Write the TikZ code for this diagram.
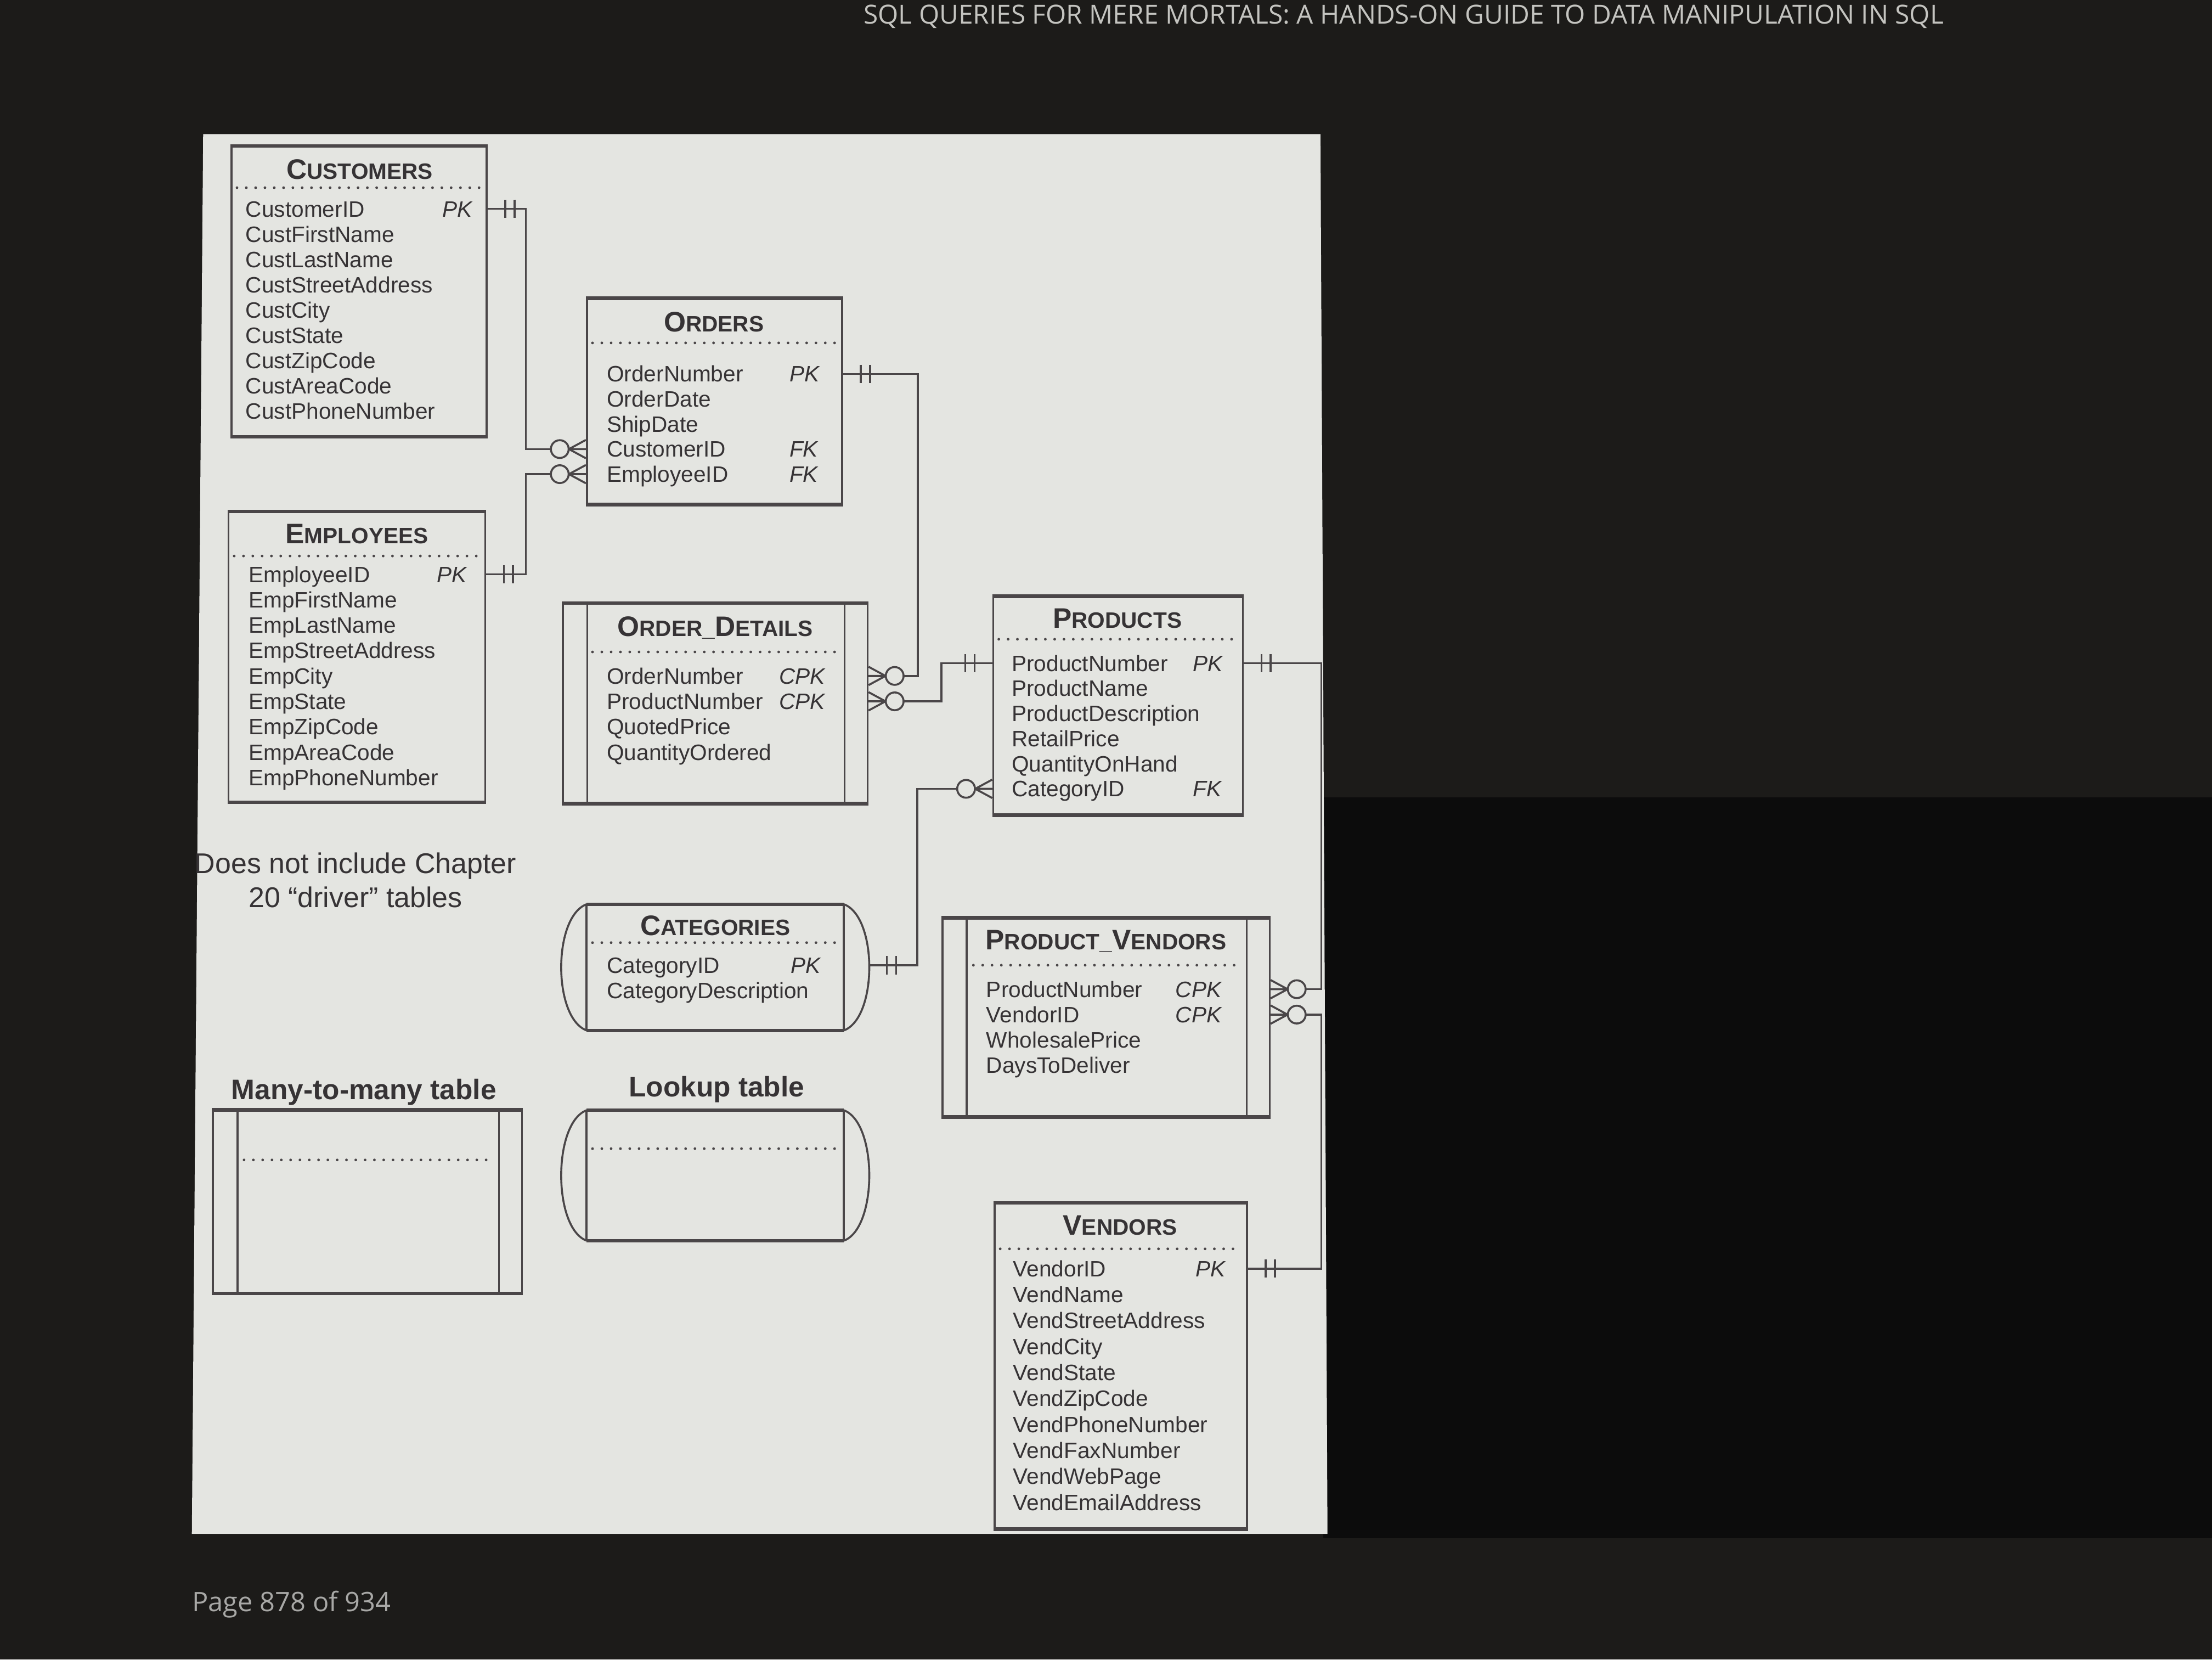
\documentclass[tikz,border=0pt]{standalone}
\usepackage{fontspec}
\setmainfont{Liberation Sans}
\newfontfamily\headfont{Open Sans}

\definecolor{paper}{HTML}{E4E5E1}
\definecolor{ink}{HTML}{363335}
\definecolor{linec}{HTML}{4A4648}
\definecolor{bgdark}{HTML}{1C1B19}
\definecolor{bgdeep}{HTML}{0C0C0C}
\definecolor{headc}{HTML}{C4C4C0}
\definecolor{pagec}{HTML}{A8A8A6}

\newcommand\fldsize{\fontsize{15.8pt}{18pt}\selectfont}
\newcommand\TitleBig[1]{{\fontsize{20pt}{22pt}\selectfont #1}}
\newcommand\TitleSmall[1]{{\fontsize{15.8pt}{22pt}\selectfont #1}}

% table outline with heavier top and bottom rims
\newcommand\rims[1]{\draw[rim] (#1.north west) -- (#1.north east) (#1.south west) -- (#1.south east);}
% many-to-many table: double bars on both sides
\newcommand\mmbars[1]{%
  \draw[conn] ([xshift=18pt]#1.north west) -- ([xshift=18pt]#1.south west)
              ([xshift=-17pt]#1.north east) -- ([xshift=-17pt]#1.south east);}
% lookup table: inner bars with rounded outer sides
\newcommand\lookupshape[1]{%
  \fill[paper] ([xshift=18pt]#1.north west) .. controls ([xshift=-6pt,yshift=-9pt]#1.north west) and ([xshift=-6pt,yshift=9pt]#1.south west) .. ([xshift=18pt]#1.south west)
     -- ([xshift=-18pt]#1.south east) .. controls ([xshift=6pt,yshift=9pt]#1.south east) and ([xshift=6pt,yshift=-9pt]#1.north east) .. ([xshift=-18pt]#1.north east) -- cycle;
  \draw[conn] ([xshift=18pt]#1.north west) .. controls ([xshift=-6pt,yshift=-9pt]#1.north west) and ([xshift=-6pt,yshift=9pt]#1.south west) .. ([xshift=18pt]#1.south west);
  \draw[conn] ([xshift=-18pt]#1.north east) .. controls ([xshift=6pt,yshift=-9pt]#1.north east) and ([xshift=6pt,yshift=9pt]#1.south east) .. ([xshift=-18pt]#1.south east);
  \draw[conn] ([xshift=18pt]#1.north west) -- ([xshift=18pt]#1.south west)
              ([xshift=-18pt]#1.north east) -- ([xshift=-18pt]#1.south east);
  \draw[rim] ([xshift=18pt]#1.north west) -- ([xshift=-18pt]#1.north east)
             ([xshift=18pt]#1.south west) -- ([xshift=-18pt]#1.south east);}

\begin{document}
\begin{tikzpicture}[x=1pt,y=-1pt,
  box/.style={draw=linec, line width=1.4pt, rectangle, inner sep=0pt, fill=paper},
  area/.style={rectangle, inner sep=0pt},
  fld/.style={anchor=west, inner sep=0pt, text height=11.3pt, text depth=0pt, font=\fldsize, text=ink},
  keyc/.style={anchor=east, inner sep=0pt, text height=11.3pt, text depth=0pt, font=\fldsize\itshape, text=ink},
  ttl/.style={anchor=base, inner sep=0pt, font=\bfseries, text=ink},
  lbl/.style={anchor=base, inner sep=0pt, font=\fontsize{20pt}{24pt}\selectfont\bfseries, text=ink},
  note/.style={anchor=base, inner sep=0pt, font=\fontsize{20.2pt}{24pt}\selectfont, text=ink},
  sep/.style={draw=linec, line width=1.9pt, line cap=round, dash pattern=on 0pt off 6.6pt},
  rim/.style={draw=linec, line width=2.4pt},
  conn/.style={draw=linec, line width=1.4pt},
  one/.pic={\draw[conn] (12.5,-6.5) -- (12.5,6.5) (19,-6.5) -- (19,6.5);},
  many/.pic={\draw[conn] (0,-6.5) -- (12,0) -- (0,6.5) (0,0) -- (12,0);
             \draw[conn, fill=paper] (18.5,0) circle[radius=6.3];},
]
\useasboundingbox (0,0) rectangle (1568,1176);
\clip (0,0) rectangle (1568,1176);

% screen surroundings
\fill[bgdark] (0,0) rectangle (1568,1176);
\fill[bgdeep] (938,565) rectangle (1568,1090);
\node[anchor=base, inner sep=0pt, text=headc, font={\headfont\fontsize{18.6pt}{20pt}\selectfont}] (head) at (995,17)
  {SQL QUERIES FOR MERE MORTALS: A HANDS-ON GUIDE TO DATA MANIPULATION IN SQL};
\node[anchor=west, inner sep=0pt, text=pagec, font={\headfont\fontsize{19pt}{22pt}\selectfont}] (pageno) at (136,1137)
  {Page 878 of 934};

% the page
\fill[paper] (144,95) -- (936,95) -- (941,1087) -- (136,1087) -- cycle;

% ---------- CUSTOMERS ----------
\node[box, minimum width=181pt, minimum height=205pt] (cust) at (254.5,206.5) {};
\rims{cust}
\node[ttl] (cust-t) at (255,127) {\TitleBig{C}\TitleSmall{USTOMERS}};
\draw[sep] (168,133) -- (342,133);
\foreach \t [count=\i] in {CustomerID,CustFirstName,CustLastName,CustStreetAddress,CustCity,CustState,CustZipCode,CustAreaCode,CustPhoneNumber}
  \node[fld] (cust-\i) at (174,{148+17.9*(\i-1)}) {\t};
\node[keyc] (cust-pk) at (335,148) {PK};

% ---------- ORDERS ----------
\node[box, minimum width=181pt, minimum height=145pt] (ord) at (506.5,284.5) {};
\rims{ord}
\node[ttl] (ord-t) at (506,235) {\TitleBig{O}\TitleSmall{RDERS}};
\draw[sep] (420,243) -- (593,243);
\foreach \t [count=\i] in {OrderNumber,OrderDate,ShipDate,CustomerID,EmployeeID}
  \node[fld] (ord-\i) at (430,{265+17.75*(\i-1)}) {\t};
\node[keyc] (ord-pk) at (581,265) {PK};
\node[keyc] (ord-fk1) at (580,318) {FK};
\node[keyc] (ord-fk2) at (580,336) {FK};

% ---------- EMPLOYEES ----------
\node[box, minimum width=182pt, minimum height=205pt] (emp) at (253,465.5) {};
\rims{emp}
\node[ttl] (emp-t) at (253,385) {\TitleBig{E}\TitleSmall{MPLOYEES}};
\draw[sep] (166,394) -- (341,394);
\foreach \t [count=\i] in {EmployeeID,EmpFirstName,EmpLastName,EmpStreetAddress,EmpCity,EmpState,EmpZipCode,EmpAreaCode,EmpPhoneNumber}
  \node[fld] (emp-\i) at (176,{407+18*(\i-1)}) {\t};
\node[keyc] (emp-pk) at (331,407) {PK};

% ---------- ORDER_DETAILS ----------
\node[box, minimum width=216pt, minimum height=141pt] (od) at (507,498.5) {};
\rims{od}
\mmbars{od}
\node[ttl] (od-t) at (507,451) {\TitleBig{O}\TitleSmall{RDER\_}\TitleBig{D}\TitleSmall{ETAILS}};
\draw[sep] (420,462) -- (595,462);
\foreach \t [count=\i] in {OrderNumber,ProductNumber,QuotedPrice,QuantityOrdered}
  \node[fld] (od-\i) at (430,{479+18*(\i-1)}) {\t};
\node[keyc] (od-k1) at (585,479) {CPK};
\node[keyc] (od-k2) at (585,497) {CPK};

% ---------- PRODUCTS ----------
\node[box, minimum width=177pt, minimum height=154pt] (prod) at (792.5,500) {};
\rims{prod}
\node[ttl] (prod-t) at (792,445) {\TitleBig{P}\TitleSmall{RODUCTS}};
\draw[sep] (708,453) -- (877,453);
\foreach \t [count=\i] in {ProductNumber,ProductName,ProductDescription,RetailPrice,QuantityOnHand,CategoryID}
  \node[fld] (prod-\i) at (717,{470+17.8*(\i-1)}) {\t};
\node[keyc] (prod-pk) at (867,470) {PK};
\node[keyc] (prod-fk) at (866,559) {FK};

% ---------- CATEGORIES ----------
\node[area, minimum width=218pt, minimum height=89pt] (cat) at (507,685.5) {};
\lookupshape{cat}
\node[ttl] (cat-t) at (507,663) {\TitleBig{C}\TitleSmall{ATEGORIES}};
\draw[sep] (420,668) -- (594,668);
\foreach \t [count=\i] in {CategoryID,CategoryDescription}
  \node[fld] (cat-\i) at (430,{684+18*(\i-1)}) {\t};
\node[keyc] (cat-pk) at (582,684) {PK};

% ---------- PRODUCT_VENDORS ----------
\node[box, minimum width=232pt, minimum height=140pt] (pv) at (784,721) {};
\rims{pv}
\mmbars{pv}
\node[ttl] (pv-t) at (784,673) {\TitleBig{P}\TitleSmall{RODUCT\_}\TitleBig{V}\TitleSmall{ENDORS}};
\draw[sep] (690,684) -- (880,684);
\foreach \t [count=\i] in {ProductNumber,VendorID,WholesalePrice,DaysToDeliver}
  \node[fld] (pv-\i) at (699,{701+18*(\i-1)}) {\t};
\node[keyc] (pv-k1) at (866,701) {CPK};
\node[keyc] (pv-k2) at (866,719) {CPK};

% ---------- VENDORS ----------
\node[box, minimum width=179pt, minimum height=230pt] (vend) at (794.5,968) {};
\rims{vend}
\node[ttl] (vend-t) at (794,875) {\TitleBig{V}\TitleSmall{ENDORS}};
\draw[sep] (709,885) -- (880,885);
\foreach \t [count=\i] in {VendorID,VendName,VendStreetAddress,VendCity,VendState,VendZipCode,VendPhoneNumber,VendFaxNumber,VendWebPage,VendEmailAddress}
  \node[fld] (vend-\i) at (718,{899+18.4*(\i-1)}) {\t};
\node[keyc] (vend-pk) at (869,899) {PK};

% ---------- relationships ----------
\draw[conn] (cust.east |- cust-1) -- ++(27,0) |- (ord.west |- ord-4);
\path (cust.east |- cust-1) pic{one};
\path (ord.west |- ord-4) pic[xscale=-1]{many};

\draw[conn] (emp.east |- emp-1) -- ++(28,0) |- (ord.west |- ord-5);
\path (emp.east |- emp-1) pic{one};
\path (ord.west |- ord-5) pic[xscale=-1]{many};

\draw[conn] (ord.east |- ord-1) -- ++(53,0) |- (od.east |- od-1);
\path (ord.east |- ord-1) pic{one};
\path (od.east |- od-1) pic{many};

\draw[conn] (prod.west |- prod-1) -- ++(-36,0) |- (od.east |- od-2);
\path (prod.west |- prod-1) pic[xscale=-1]{one};
\path (od.east |- od-2) pic{many};

\draw[conn] (prod.west |- prod-6) -- ++(-53,0) |- (cat.east |- cat-1);
\path (prod.west |- prod-6) pic[xscale=-1]{many};
\path (cat.east |- cat-1) pic{one};

\draw[conn] (prod.east |- prod-1) -- ++(55,0) |- (pv.east |- pv-1);
\path (prod.east |- prod-1) pic{one};
\path (pv.east |- pv-1) pic{many};

\draw[conn] (vend.east |- vend-1) -- ++(52,0) |- (pv.east |- pv-2);
\path (vend.east |- vend-1) pic{one};
\path (pv.east |- pv-2) pic{many};

% ---------- note and legend ----------
\node[note] (note1) at (252,619) {Does not include Chapter};
\node[note] (note2) at (252,643) {20 “driver” tables};

\node[lbl] (m2m-lbl) at (258,779) {Many-to-many table};
\node[box, minimum width=219pt, minimum height=129pt] (m2m) at (260.5,851.5) {};
\rims{m2m}
\mmbars{m2m}
\draw[sep] (173,822) -- (348,822);

\node[lbl] (lkp-lbl) at (508,777) {Lookup table};
\node[area, minimum width=218pt, minimum height=92pt] (lkp) at (507,833) {};
\lookupshape{lkp}
\draw[sep] (420,814) -- (594,814);
\end{tikzpicture}
\end{document}
